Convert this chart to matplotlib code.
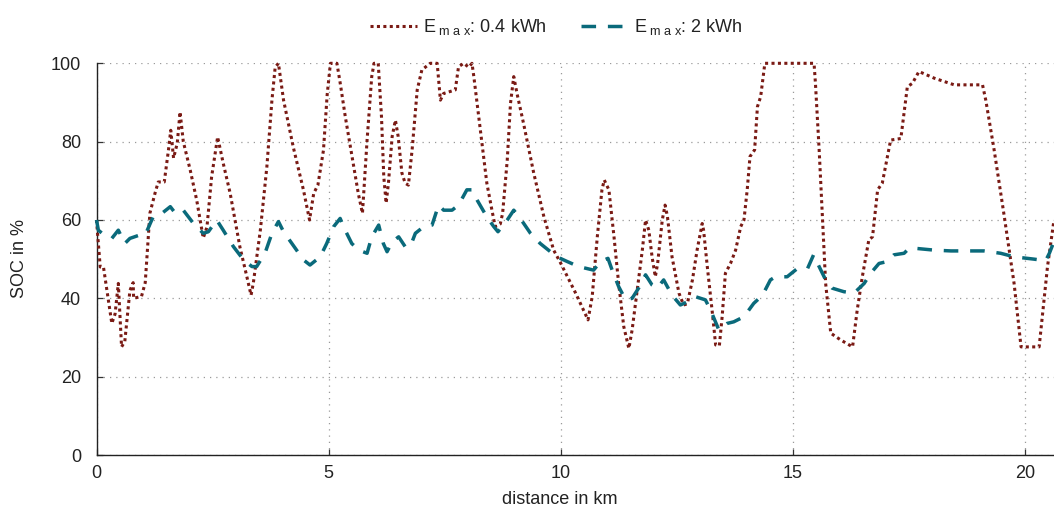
import matplotlib
matplotlib.use("Agg")
import matplotlib.pyplot as plt
from matplotlib.lines import Line2D

# ---------------- data ----------------
dist_small = [0.0, 0.08, 0.15, 0.33, 0.40, 0.47, 0.54, 0.61, 0.72, 0.79, 0.80, 0.97, 1.05,
              1.15, 1.26, 1.33, 1.46, 1.55, 1.60, 1.66, 1.74, 1.80, 1.87, 2.02, 2.16, 2.30,
              2.38, 2.48, 2.61, 2.73, 2.88, 3.09, 3.24, 3.33, 3.38, 3.53, 3.67, 3.78, 3.85,
              3.92, 4.03, 4.24, 4.46, 4.59, 4.68, 4.77, 4.89, 4.97, 5.04, 5.18, 5.25, 5.36,
              5.53, 5.64, 5.73, 5.83, 5.93, 5.98, 6.07, 6.14, 6.19, 6.24, 6.29, 6.37, 6.44,
              6.50, 6.58, 6.65, 6.72, 6.80, 6.91, 7.01, 7.19, 7.34, 7.41, 7.48, 7.73, 7.80,
              7.91, 8.02, 8.09, 8.13, 8.27, 8.41, 8.52, 8.59, 8.70, 8.75, 8.85, 8.92, 8.99,
              9.06, 9.20, 9.42, 9.64, 9.85, 10.0, 10.32, 10.59, 10.68, 10.79, 10.89, 10.94,
              11.04, 11.15, 11.25, 11.36, 11.47, 11.54, 11.65, 11.76, 11.83, 11.90, 11.97,
              12.04, 12.09, 12.19, 12.25, 12.30, 12.40, 12.55, 12.65, 12.73, 12.84, 12.94,
              13.05, 13.08, 13.16, 13.27, 13.34, 13.42, 13.48, 13.55, 13.66, 13.77, 13.88,
              13.95, 14.02, 14.08, 14.18, 14.24, 14.31, 14.40, 15.46, 15.49, 15.57, 15.64,
              15.71, 15.82, 16.03, 16.29, 16.39, 16.50, 16.64, 16.72, 16.83, 16.93, 17.04,
              17.11, 17.33, 17.47, 17.58, 17.72, 18.05, 18.48, 19.09, 19.16, 19.34, 19.56,
              19.77, 19.92, 20.31, 20.49, 20.63]
soc_small = [60, 48, 48, 33.6, 36, 43.8, 27.6, 29, 42, 44, 40, 40.5, 44,
             61.7, 66.8, 69.7, 69.7, 77.8, 82.9, 75.8, 79.6, 87.6, 80, 72.7, 65, 55.4,
             58.2, 71, 81.2, 74.5, 66.8, 53.1, 45.5, 40.8, 44, 57.4, 73.5, 90.6, 99,
             100, 90.6, 78.6, 67.6, 60, 66.8, 68.9, 77.8, 92, 100, 100, 95, 86.4,
             74.5, 66.8, 61.7, 80.4, 96.6, 100, 100, 86.4, 71, 64.3, 69.4, 81.3, 85.5,
             81.3, 72, 69.4, 68.9, 77.9, 93.2, 98.3, 100, 100, 90.6, 92.3, 93.2, 99.1,
             100, 99, 100, 96.6, 83, 69.4, 62.5, 58.3, 59, 61.7, 75.3, 89.8, 96.6,
             92.3, 84.7, 72, 60.8, 52.3, 49, 41.4, 34.5, 40.4, 55.7, 67.7, 70.2,
             67.7, 55.7, 43.8, 32.8, 27.2, 31.9, 42.1, 52.3, 60, 57.4, 50.6,
             45.5, 48.9, 60, 63.8, 61, 50.6, 41.3, 38.3, 38.6, 44.7, 52.3,
             59.1, 57.4, 48.1, 36.2, 28.1, 27.9, 35.3, 46.4, 48.9, 52.3, 58.3,
             60, 67.7, 76.2, 77.9, 88.9, 91.5, 100, 100, 94.9, 77.9, 60.8,
             43.8, 31.1, 29.4, 27.6, 37, 45.5, 54.9, 55.7, 67.7, 69.4, 76.2,
             80.4, 80.8, 94, 94.9, 97.9, 96.2, 94.5, 94.5, 90.6, 77.9, 60.8,
             43.8, 27.6, 27.6, 48.1, 60]

dist_large = [0.0, 0.04, 0.18, 0.33, 0.47, 0.61, 0.72, 0.94, 1.05, 1.22, 1.41, 1.59, 1.70,
              1.87, 2.09, 2.30, 2.41, 2.59, 2.73, 2.95, 3.17, 3.35, 3.45, 3.63, 3.78, 3.92,
              4.03, 4.21, 4.46, 4.60, 4.82, 4.96, 5.11, 5.25, 5.32, 5.50, 5.65, 5.83, 5.93,
              6.08, 6.18, 6.26, 6.37, 6.51, 6.65, 6.76, 6.87, 7.05, 7.23, 7.37, 7.48, 7.66,
              7.80, 7.98, 8.09, 8.20, 8.41, 8.56, 8.65, 8.85, 8.99, 9.13, 9.35, 9.56, 9.78,
              9.92, 10.14, 10.39, 10.71, 10.86, 11.02, 11.11, 11.25, 11.40, 11.54, 11.68,
              11.83, 11.97, 12.08, 12.22, 12.40, 12.58, 12.73, 12.91, 13.12, 13.23, 13.41,
              13.59, 13.73, 13.95, 14.16, 14.35, 14.52, 14.63, 14.88, 15.10, 15.32, 15.45,
              15.57, 15.71, 15.85, 16.10, 16.32, 16.54, 16.68, 16.86, 17.04, 17.18, 17.40,
              17.51, 17.61, 18.05, 18.41, 19.12, 19.48, 19.77, 20.20, 20.45, 20.53, 20.63]
soc_large = [60, 57.4, 56, 55.3, 57.4, 54, 55.3, 56.2, 56.2, 60.8, 61.7, 63.4, 61.7,
             62.5, 59.1, 56.6, 57, 60, 57.4, 53.2, 49.8, 48.1, 48.1, 51.5, 56.6, 59.6,
             57, 54, 49.8, 48.5, 50.6, 54, 58.3, 60.4, 58.3, 54, 52.3, 51.5, 55.7,
             58.7, 54, 51.9, 54.4, 55.7, 53.2, 53.2, 56.6, 58.3, 58.7, 63.8, 62.5, 62.5,
             63.8, 67.7, 67.7, 65.1, 60.8, 58.3, 57, 60, 62.5, 60.4, 56.6, 54, 51.9,
             50.6, 49.4, 48.1, 47.2, 49.4, 50.2, 47.2, 43, 39.6, 40, 42.6,
             46, 43.4, 42.6, 44.7, 40.8, 38.3, 39.1, 40.4, 39.6, 37, 31.9,
             33.6, 34, 35.3, 38.7, 40.8, 44.7, 45.5, 45.5, 47.6, 47.6, 51.1,
             48.1, 44.7, 42.6, 41.7, 41.3, 43.8, 46.4, 48.9, 49.4, 51.1, 51.5,
             52.8, 52.8, 52.3, 52.1, 52.1, 51.5, 50.6, 50, 49.6, 51.5, 54.5]

labels = ["E$_{\\mathrm{\\ m\\ a\\ x}}$: 0.4 kWh", "E$_{\\mathrm{\\ m\\ a\\ x}}$: 2 kWh"]
x_ticks = [0, 5, 10, 15, 20]
y_ticks = [0, 20, 40, 60, 80, 100]
x_label = "distance in km"
y_label = "SOC in %"

# ---------------- style ----------------
FONT = "Liberation Sans"
plt.rcParams["font.family"] = [FONT, "DejaVu Sans"]
plt.rcParams["mathtext.fontset"] = "custom"
plt.rcParams["mathtext.rm"] = FONT
plt.rcParams["mathtext.it"] = FONT + ":italic"
plt.rcParams["mathtext.bf"] = FONT + ":bold"
FS = 13
RED = "#7a1a14"
TEAL = "#0a6a7b"
TXT = "#222222"

W, H = 1054, 512
fig = plt.figure(figsize=(W / 100, H / 100), dpi=100)
x0, x1, y0, y1 = 96.5, 1054, 63.3, 455
ax = fig.add_axes([x0 / W, 1 - y1 / H, (x1 - x0) / W, (y1 - y0) / H])

ax.plot(dist_small, soc_small, color=RED, lw=2.2, linestyle=(0, (1, 1.1)),
        dash_capstyle="butt", clip_on=False, zorder=3)
ax.plot(dist_large, soc_large, color=TEAL, lw=2.5, linestyle=(0, (4.2, 3.4)),
        dash_capstyle="butt", clip_on=False, zorder=4)

ax.set_xlim(0, 20.63)
ax.set_ylim(0, 100)
ax.set_xticks(x_ticks)
ax.set_yticks(y_ticks)
ax.tick_params(direction="in", length=4.5, width=0.9, labelsize=FS, color="#333333",
               labelcolor=TXT)
ax.tick_params(axis="y", pad=11)
ax.tick_params(axis="x", pad=7)
ax.grid(True, color="#9a9a9a", lw=0.9, linestyle=(0, (1, 4)))
ax.set_axisbelow(True)
for s in ["top", "right"]:
    ax.spines[s].set_visible(False)
for s in ["left", "bottom"]:
    ax.spines[s].set_linewidth(1.0)
    ax.spines[s].set_color(TXT)

fig.text(559.5 / W, 1 - 500 / H, x_label, ha="center", va="center", fontsize=FS,
         color=TXT)
fig.text(20 / W, 1 - 259 / H, y_label, ha="center", va="center", rotation=90,
         fontsize=FS, color=TXT)

handles = [Line2D([], [], color=RED, lw=2.2, linestyle=(0, (1, 1.1)), dash_capstyle="butt"),
           Line2D([], [], color=TEAL, lw=2.5, linestyle=(0, (4.2, 3.4)), dash_capstyle="butt")]
fig.legend(handles, labels, loc="center", bbox_to_anchor=(556.5 / W, 1 - 27 / H),
           ncol=2, frameon=False, fontsize=FS, handlelength=2.6, handletextpad=0.35,
           columnspacing=1.9, labelcolor=TXT)

fig.savefig("out.png", dpi=100)
